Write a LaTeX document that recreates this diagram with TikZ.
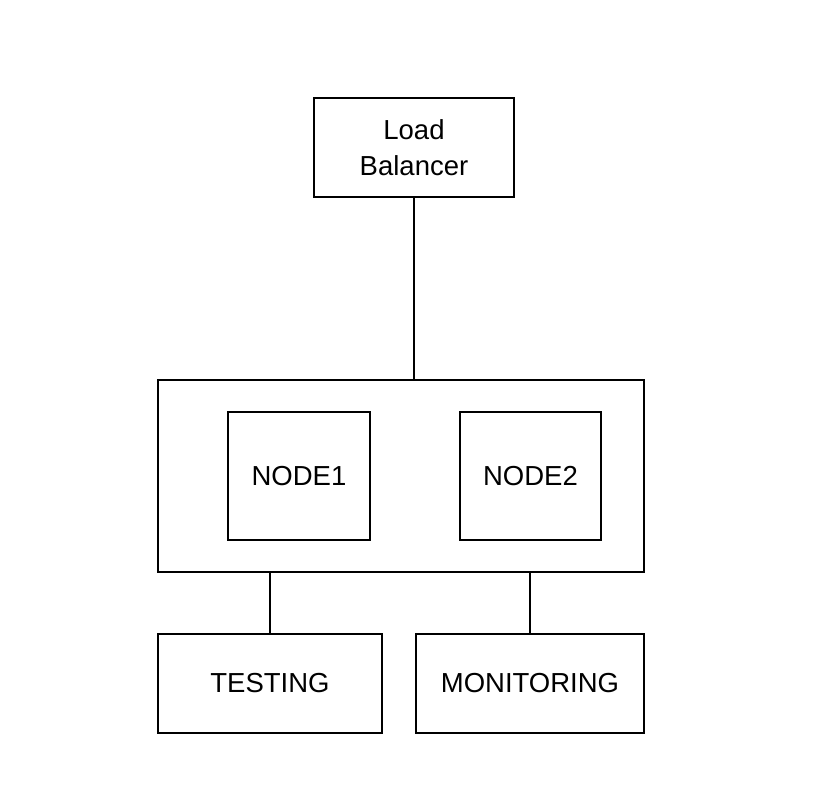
\documentclass[tikz,border=0pt]{standalone}
\usepackage{fontspec}
\setmainfont{Liberation Sans}
\begin{document}
\begin{tikzpicture}[x=1pt,y=-1pt,
  box/.style={draw=black,line width=1.5pt,rectangle,inner sep=0pt,align=center,
    font=\fontsize{27.5}{36}\selectfont},
  link/.style={draw=black,line width=1.5pt}]
\useasboundingbox[fill=white] (0,0) rectangle (831,786);
\node[box,minimum width=200pt,minimum height=99pt] (lb) at (414,147.5) {Load\\Balancer};
\node[box,minimum width=486pt,minimum height=192pt] (cont) at (401,476) {};
\node[box,minimum width=142pt,minimum height=128pt] (n1) at (299,476) {NODE1};
\node[box,minimum width=141pt,minimum height=128pt] (n2) at (530.5,476) {NODE2};
\node[box,minimum width=224pt,minimum height=99pt] (test) at (270,683.5) {TESTING};
\node[box,minimum width=228pt,minimum height=99pt] (mon) at (530,683.5) {MONITORING};
\draw[link] (lb.south) -- (lb.south |- cont.north);
\draw[link] (test.north) -- (test.north |- cont.south);
\draw[link] (mon.north) -- (mon.north |- cont.south);
\end{tikzpicture}
\end{document}
